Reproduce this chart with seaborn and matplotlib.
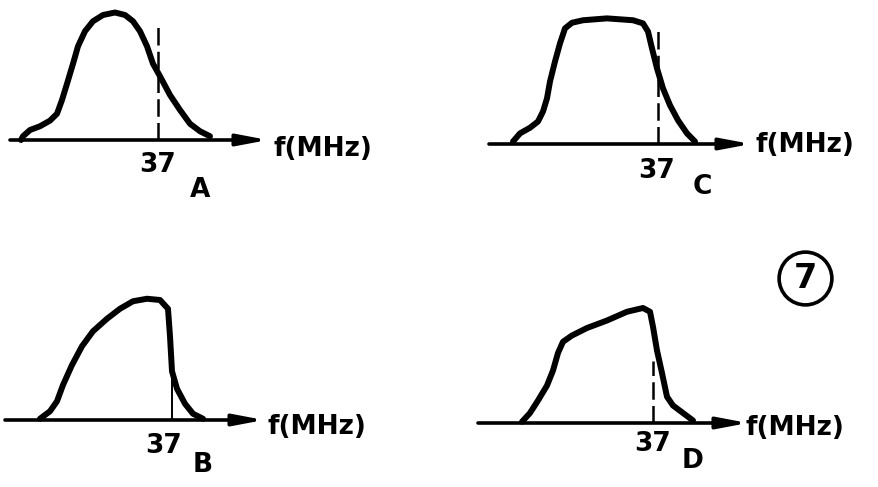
import matplotlib
matplotlib.use("Agg")
import matplotlib.pyplot as plt
import seaborn as sns
import pandas as pd

# frequency (MHz) / relative amplitude
A_freq = [23.3, 23.5, 24.2, 25.2, 26.2, 26.9, 27.4, 27.9, 28.5, 29.0, 29.7, 30.5, 31.5, 32.7, 33.7,
          34.5, 35.2, 35.9, 36.5, 37.2, 38.2, 39.2, 40.2, 41.2, 42.2]
A_amp = [0.00, 0.03, 0.08, 0.11, 0.155, 0.21, 0.32, 0.45, 0.61, 0.75, 0.87, 0.95, 1.00, 1.02, 1.00,
         0.95, 0.87, 0.75, 0.61, 0.51, 0.36, 0.24, 0.13, 0.07, 0.03]

C_freq = [22.5, 23.2, 24.2, 25.0, 25.5, 25.9, 26.2, 26.7, 27.2, 27.7, 28.4, 29.5, 31.9, 34.5, 35.5,
          36.0, 36.4, 36.9, 37.5, 38.2, 39.0, 39.9, 40.7]
C_amp = [0.02, 0.085, 0.13, 0.18, 0.26, 0.365, 0.50, 0.66, 0.805, 0.925, 0.97, 0.99, 1.005, 0.99, 0.965,
         0.90, 0.765, 0.605, 0.445, 0.31, 0.19, 0.085, 0.02]

B_freq = [23.8, 24.8, 25.5, 26.1, 27.0, 28.0, 29.1, 30.5, 31.8, 33.1, 34.5, 35.8, 36.6, 36.8, 36.8,
          37.0, 37.5, 38.3, 39.1, 40.1]
B_amp = [0.01, 0.07, 0.15, 0.28, 0.44, 0.59, 0.71, 0.81, 0.89, 0.95, 0.97, 0.96, 0.89, 0.79, 0.55,
         0.39, 0.25, 0.13, 0.05, 0.01]

D_freq = [23.9, 24.7, 25.5, 26.4, 27.0, 27.5, 28.0, 28.9, 30.4, 32.4, 34.4, 36.0, 36.7, 37.0, 37.4,
          37.9, 38.4, 39.0, 40.0, 41.0]
D_amp = [0.01, 0.08, 0.18, 0.30, 0.42, 0.56, 0.65, 0.70, 0.76, 0.82, 0.89, 0.92, 0.89, 0.77, 0.58,
         0.40, 0.21, 0.14, 0.08, 0.02]

panel_names = ["A", "C", "B", "D"]
marker_top = [0.94, 0.94, 0.37, 0.50]   # height of the 37 MHz marker line
marker_style = ["dashed", "dashed", "solid", "dashed"]
axis_range = [(22.2, 48.0), (20.1, 46.3), (20.3, 46.2), (19.5, 46.5)]
label_37 = [(37.0, -0.20), (36.9, -0.22), (36.2, -0.21), (37.0, -0.17)]
letter_pos = [(41.2, -0.40), (41.4, -0.34), (40.1, -0.36), (41.0, -0.30)]
unit_pos = [(48.6, -0.07), (46.7, -0.01), (46.6, -0.06), (46.2, -0.04)]
curves = {"A": (A_freq, A_amp), "C": (C_freq, C_amp), "B": (B_freq, B_amp), "D": (D_freq, D_amp)}

W, H = 879, 487
PX_MHZ, PX_AMP = 10.0, 125.0
# panel box in pixels (x0, y0, w, h), x pixel of 37 MHz, y pixel of the axis
boxes = [(0, 0, 440, 243, 158, 140), (440, 0, 439, 243, 658, 144),
         (0, 243, 440, 244, 172, 420), (440, 243, 439, 244, 653, 423)]

sns.set_style("white")
fig = plt.figure(figsize=(W / 100, H / 100), dpi=100)
fig.patch.set_facecolor("white")

txt = dict(color="black", fontweight="bold", fontsize=19, family="DejaVu Sans")

for i, name in enumerate(panel_names):
    x0, y0, w, h, ox, oy = boxes[i]
    ax = fig.add_axes([x0 / W, 1 - (y0 + h) / H, w / W, h / H])
    ax.set_xlim(37 + (x0 - ox) / PX_MHZ, 37 + (x0 + w - ox) / PX_MHZ)
    ax.set_ylim((oy - (y0 + h)) / PX_AMP, (oy - y0) / PX_AMP)
    ax.axis("off")

    f, a = curves[name]
    df = pd.DataFrame({"f": f, "amp": a})
    sns.lineplot(data=df, x="f", y="amp", sort=False, color="black", lw=4.3,
                 ax=ax, solid_capstyle="round", solid_joinstyle="round")

    # frequency axis with arrow
    lo, hi = axis_range[i]
    ax.annotate("", xy=(hi, 0), xytext=(lo, 0),
                arrowprops=dict(arrowstyle="-|>,head_length=0.9,head_width=0.17",
                                lw=2.6, color="black", mutation_scale=20,
                                shrinkA=0, shrinkB=0))

    # 37 MHz marker
    if marker_style[i] == "dashed":
        ax.plot([37, 37], [0, marker_top[i]], color="black", lw=1.8,
                dashes=(7, 2.5))
    else:
        ax.plot([37, 37], [0, marker_top[i]], color="black", lw=1.4)

    ax.text(*label_37[i], "37", ha="center", va="center", **txt)
    ax.text(*letter_pos[i], name, ha="center", va="center", **txt)
    ax.text(*unit_pos[i], "f(MHz)", ha="left", va="center", **txt)

    if name == "D":
        ax.plot(52.2, 1.16, marker="o", ms=38, mfc="none", mec="black", mew=2.6)
        ax.text(52.2, 1.16, "7", ha="center", va="center", color="black",
                fontweight="bold", fontsize=24)

fig.savefig("out.png", dpi=100, facecolor="white")
